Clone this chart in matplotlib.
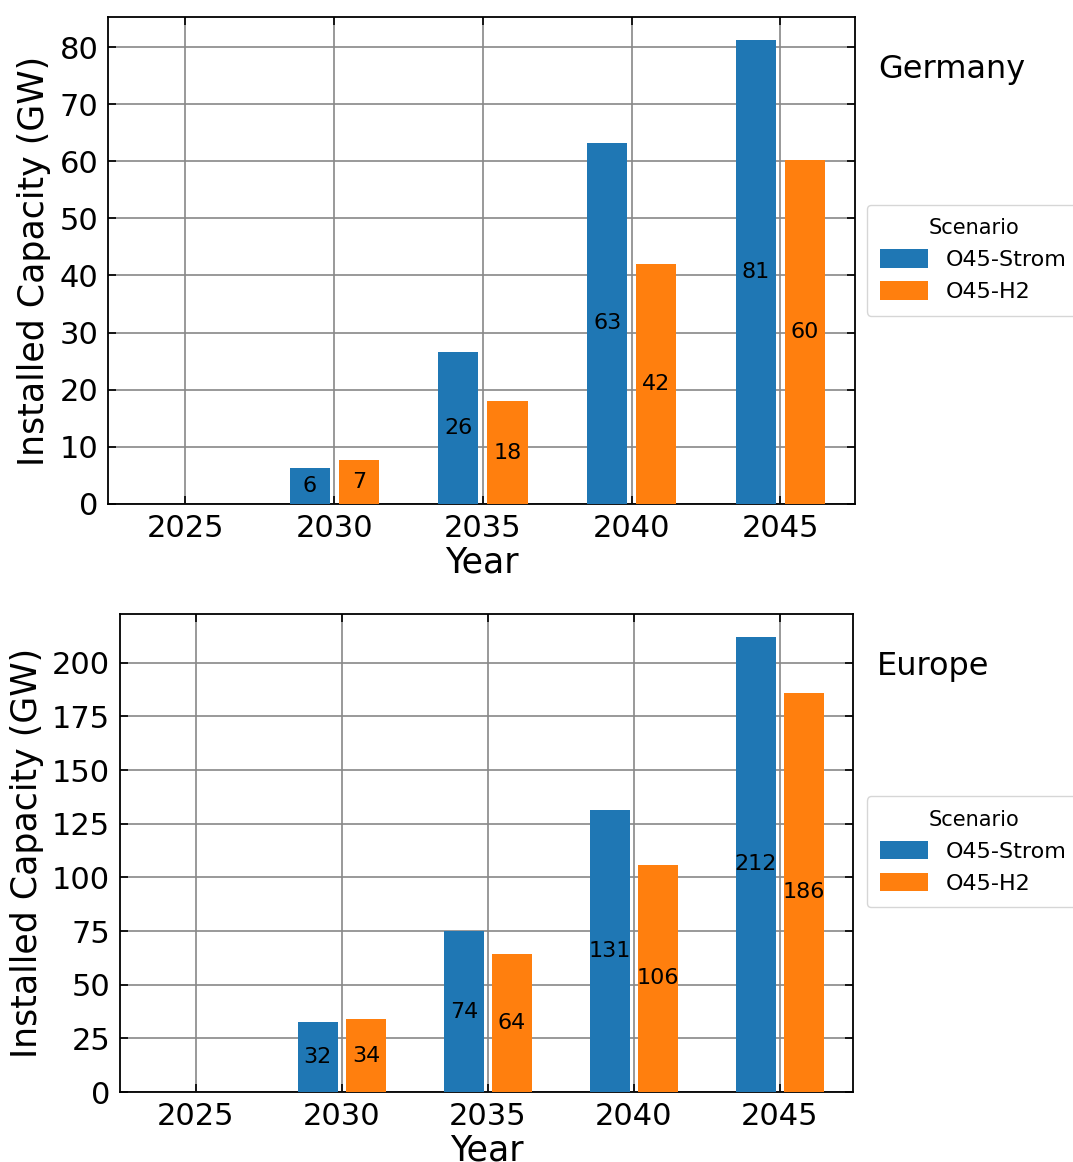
import numpy as np
import matplotlib.pyplot as plt

years = ['2025', '2030', '2035', '2040', '2045']
scenarios = ['O45-Strom', 'O45-H2']
colors = ['#1f77b4', '#ff7f0e']

germany_strom = [0, 6.3, 26.6, 63.2, 81.2]
germany_h2 = [0, 7.7, 18.0, 42.0, 60.2]
europe_strom = [0, 32.6, 74.9, 131.2, 212.1]
europe_h2 = [0, 34.0, 64.2, 106.0, 186.0]

fig = plt.figure(figsize=(10.73, 11.62), dpi=100)
ax1 = fig.add_axes([0.1007, 0.5663, 0.696, 0.4191])
ax2 = fig.add_axes([0.1118, 0.0602, 0.6831, 0.4114])


def draw(ax, strom, h2, region, leg_y, ystep):
    x = np.arange(len(years))
    w = 0.27
    for vals, off, c, name in [(strom, -0.165, colors[0], scenarios[0]),
                               (h2, 0.165, colors[1], scenarios[1])]:
        bars = ax.bar(x + off, vals, w, color=c, label=name, zorder=3)
        labels = [str(int(v)) if v > 0 else '' for v in vals]
        ax.bar_label(bars, labels=labels, label_type='center', fontsize=16)
    ax.set_xticks(x)
    ax.set_xticklabels(years)
    ax.set_xlim(-0.52, 4.5)
    top = max(max(strom), max(h2)) * 1.05
    ax.set_ylim(0, top)
    ax.set_yticks(np.arange(0, top, ystep))
    ax.grid(True, color='#888888', linewidth=1.2, zorder=0)
    ax.tick_params(direction='in', top=True, right=True, labelsize=22,
                   length=6, width=1.2, pad=7)
    for s in ax.spines.values():
        s.set_linewidth(1.3)
    ax.set_xlabel('Year', fontsize=25, labelpad=2)
    ax.set_ylabel('Installed Capacity (GW)', fontsize=25, labelpad=6)
    fig.text(ax.get_position().x1 + 0.022, ax.get_position().y1 - 0.045,
             region, fontsize=23, va='center')
    ax.legend(title='Scenario', loc='center left',
              bbox_to_anchor=(0.808, leg_y), bbox_transform=fig.transFigure,
              borderaxespad=0, fontsize=16, title_fontsize=15,
              handlelength=2.15, handleheight=0.9, handletextpad=0.8,
              borderpad=0.6)


draw(ax1, germany_strom, germany_h2, 'Germany', 0.776, 10)
draw(ax2, europe_strom, europe_h2, 'Europe', 0.267, 25)

plt.savefig('out.png', dpi=100)
